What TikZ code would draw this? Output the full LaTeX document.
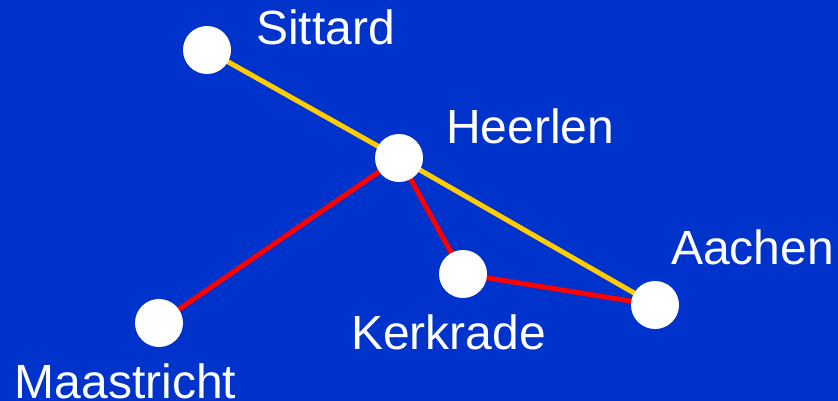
\documentclass[tikz,border=0pt]{standalone}
\usepackage{fontspec}
\setmainfont{Liberation Sans}
\definecolor{bgblue}{HTML}{0033CC}
\definecolor{mainline}{HTML}{FFCC00}
\definecolor{branchline}{HTML}{FF0000}
\begin{document}
\begin{tikzpicture}[x=1pt,y=-1pt,
  town/.style={circle,fill=white,minimum size=48pt,inner sep=0pt},
  place/.style={anchor=base west,inner sep=0pt,text=white,font=\fontsize{48}{52}\selectfont},
  trunk/.style={draw=mainline,line width=5pt},
  branch/.style={draw=branchline,line width=5pt}]
\fill[bgblue] (0,0) rectangle (838,401);
\useasboundingbox (0,0) rectangle (838,401);
% stations
\coordinate (sit) at (207,50);
\coordinate (hee) at (399,158);
\coordinate (ker) at (463,274);
\coordinate (aac) at (655,305);
\coordinate (maa) at (159,323);
% lines
\draw[trunk] (sit) -- (hee) -- (aac);
\draw[branch] (maa) -- (hee) -- (ker) -- (aac);
% station dots
\node[town] (nsit) at (sit) {};
\node[town] (nhee) at (hee) {};
\node[town] (nker) at (ker) {};
\node[town] (naac) at (aac) {};
\node[town] (nmaa) at (maa) {};
% names
\node[place] (lsit) at (256,45) {Sittard};
\node[place] (lhee) at (446,143.5) {Heerlen};
\node[place] (laac) at (671,264) {Aachen};
\node[place] (lker) at (351,349) {Kerkrade};
\node[place] (lmaa) at (14.5,398) {Maastricht};
\end{tikzpicture}
\end{document}
